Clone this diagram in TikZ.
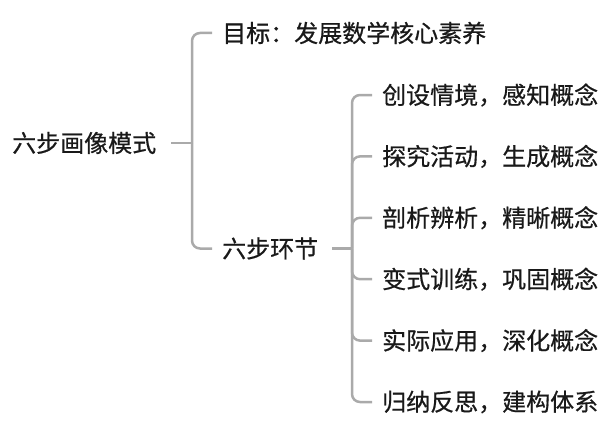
\documentclass[tikz,border=0pt]{standalone}
\usepackage{fontspec}
\setmainfont{Noto Sans CJK SC}[FakeBold=0.6]
\usetikzlibrary{positioning}
\definecolor{branchgray}{RGB}{170,170,170}
\definecolor{textblack}{RGB}{25,25,25}
\tikzset{
  topic/.style={anchor=west,inner sep=0pt,text=textblack},
  branch/.style={draw=branchgray,line width=2.5pt,rounded corners=8pt},
  every node/.style={font=\fontsize{24}{28}\selectfont}
}
\begin{document}
\begin{tikzpicture}[x=1pt,y=-1pt]
\useasboundingbox (0,0) rectangle (612,420);
% root and its two children
\node[topic] (root) at (12,143) {六步画像模式};
\node[topic] (goal) at (222,33) {目标：发展数学核心素养};
\node[topic] (steps) at (222,248.5) {六步环节};
\coordinate (j1) at (192,143);
\coordinate (j2) at (352,248.5);

\draw[branch] ([xshift=15pt]root.east) -- (j1);
\draw[branch] (j1) |- ([xshift=-10pt]goal.west);
\draw[branch] (j1) |- ([xshift=-10pt]steps.west);
\draw[branch] ([xshift=14pt]steps.east) -- (j2);

% the six steps
\foreach \i/\t in {1/创设情境，感知概念,2/探究活动，生成概念,3/剖析辨析，精晰概念,
  4/变式训练，巩固概念,5/实际应用，深化概念,6/归纳反思，建构体系}{
  \node[topic] (s\i) at (382,{95+61.4*(\i-1)}) {\t};
  \draw[branch] (j2) |- ([xshift=-10pt]s\i.west);
}
\end{tikzpicture}
\end{document}
